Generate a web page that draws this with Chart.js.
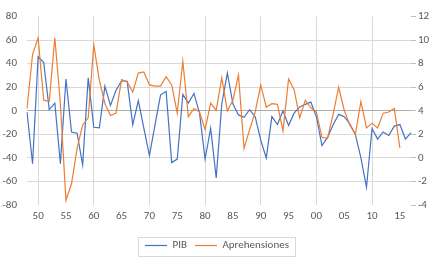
<!DOCTYPE html>
<html>
<head>
<meta charset="utf-8">
<script src="https://cdn.jsdelivr.net/npm/chart.js@4.4.1/dist/chart.umd.min.js"></script>
<style>
  html, body { margin: 0; padding: 0; background: #ffffff; }
  #wrap { width: 434px; height: 257px; position: relative; }
</style>
</head>
<body>
<div id="wrap"><canvas id="c" width="434" height="257"></canvas></div>
<script>
// Years 1948..2017
const years = [1948,1949,1950,1951,1952,1953,1954,1955,1956,1957,1958,1959,
  1960,1961,1962,1963,1964,1965,1966,1967,1968,1969,
  1970,1971,1972,1973,1974,1975,1976,1977,1978,1979,
  1980,1981,1982,1983,1984,1985,1986,1987,1988,1989,
  1990,1991,1992,1993,1994,1995,1996,1997,1998,1999,
  2000,2001,2002,2003,2004,2005,2006,2007,2008,2009,
  2010,2011,2012,2013,2014,2015,2016,2017];

// PIB (left axis)
const pib = [-1,-45,46,41,1,6.5,-45,27,-18,-19,-46,28,
  -14,-14.5,21,4.6,17.5,25.5,25,-12,8.7,-15,
  -38,-12,13.6,16.4,-44,-41,14,6.5,14.7,-2,
  -41,-15,-57,6,32,6,-3.5,-5.5,1,-5,
  -25,-40,-5,-11.7,0,-12.5,-2,3.3,5.5,7.4,
  -5,-29.5,-22.6,-12,-3,-5,-11,-20,-40,-65,
  -15,-24,-18,-21,-13,-11.7,-24,-18.5];

// Aprehensiones (right axis)
const aprehensiones = [4.2,8.8,10.2,4.9,4.8,10.2,4.6,-3.6,-2.2,0.8,2.8,3.4,
  9.6,6.6,4.6,3.6,3.8,6.65,6.45,5.6,7.2,7.3,
  6.2,6.1,6.1,6.9,6.2,3.8,8.2,3.5,4.2,3.9,
  2.4,4.65,4.05,6.8,4.0,4.9,7.05,0.8,2.4,3.9,
  6.2,4.3,4.6,4.55,2.3,6.7,5.8,3.4,4.9,4.25,
  3.9,1.75,1.65,3.7,6.0,4.05,2.8,2.0,4.8,2.55,
  2.95,2.55,3.8,3.9,4.2,0.85,null,null];

const leftTicks = [-80,-60,-40,-20,0,20,40,60,80];
const rightTicks = [-4,-2,0,2,4,6,8,10,12];

const FONT = 'Carlito, Calibri, Lato, sans-serif';
const TXT = '#595959';
const GRID = '#D9D9D9';

const legendBorder = {
  id: 'legendBorder',
  afterDraw(chart) {
    const lg = chart.legend;
    if (!lg || !lg.legendHitBoxes || !lg.legendHitBoxes.length) return;
    const hb = lg.legendHitBoxes;
    const first = hb[0], last = hb[hb.length - 1];
    const cy = first.top + first.height / 2;
    const ctx = chart.ctx;
    ctx.save();
    ctx.strokeStyle = '#D9D9D9';
    ctx.lineWidth = 1;
    const l = Math.round(first.left - 7) + 0.5;
    const r = Math.round(last.left + last.width + 6) + 0.5;
    ctx.strokeRect(l, Math.round(cy - 9) + 0.5, r - l, 19);
    ctx.restore();
  }
};

new Chart(document.getElementById('c'), {
  type: 'line',
  data: {
    labels: years,
    datasets: [
      {
        label: 'PIB',
        data: pib,
        yAxisID: 'y',
        borderColor: '#4472C4',
        backgroundColor: '#4472C4',
        borderWidth: 1.2,
        pointRadius: 0,
        tension: 0,
        order: 1
      },
      {
        label: 'Aprehensiones',
        data: aprehensiones,
        yAxisID: 'y1',
        borderColor: '#ED7D31',
        backgroundColor: '#ED7D31',
        borderWidth: 1.2,
        pointRadius: 0,
        tension: 0,
        order: 0
      }
    ]
  },
  options: {
    responsive: false,
    animation: false,
    devicePixelRatio: 1,
    layout: { padding: { top: 9.5, left: 0, right: 0, bottom: -4 } },
    plugins: {
      tooltip: { enabled: false },
      legend: {
        position: 'bottom',
        labels: {
          usePointStyle: true,
          pointStyle: 'line',
          pointStyleWidth: 22,
          padding: 8,
          color: TXT,
          font: { family: FONT, size: 11 },
          sort(a, b) { return a.datasetIndex - b.datasetIndex; }
        }
      }
    },
    scales: {
      x: {
        type: 'category',
        offset: false,
        afterFit(s) { s.height = 27; },
        grid: {
          offset: false,
          drawTicks: false,
          color(ctx) {
            const yr = years[ctx.index];
            return (yr !== undefined && yr % 10 === 0) ? GRID : 'rgba(0,0,0,0)';
          }
        },
        border: { display: false },
        ticks: {
          autoSkip: false,
          maxRotation: 0,
          minRotation: 0,
          padding: 5,
          color: TXT,
          font: { family: FONT, size: 11 },
          callback(v, i) {
            const yr = years[i];
            return yr % 5 === 0 ? String(yr % 100).padStart(2, '0') : '';
          }
        }
      },
      y: {
        position: 'left',
        min: -80,
        max: 80,
        afterFit(s) { s.width = 27; },
        afterBuildTicks(s) { s.ticks = leftTicks.map(v => ({ value: v })); },
        grid: {
          drawTicks: false,
          color(ctx) {
            const v = ctx.tick && ctx.tick.value;
            if (v === 0) return '#ABABAB';
            if (v === 80 || v === -80) return 'rgba(0,0,0,0)';
            return GRID;
          }
        },
        border: { display: false },
        ticks: {
          padding: 10,
          color: TXT,
          font: { family: FONT, size: 11 }
        }
      },
      y1: {
        position: 'right',
        min: -4,
        max: 12,
        afterFit(s) { s.width = 23; },
        afterBuildTicks(s) { s.ticks = rightTicks.map(v => ({ value: v })); },
        grid: {
          drawOnChartArea: false,
          drawTicks: true,
          tickLength: 5,
          color: '#BFBFBF'
        },
        border: { display: false },
        ticks: {
          padding: 2,
          color: TXT,
          font: { family: FONT, size: 11 }
        }
      }
    }
  },
  plugins: [legendBorder]
});
</script>
</body>
</html>
